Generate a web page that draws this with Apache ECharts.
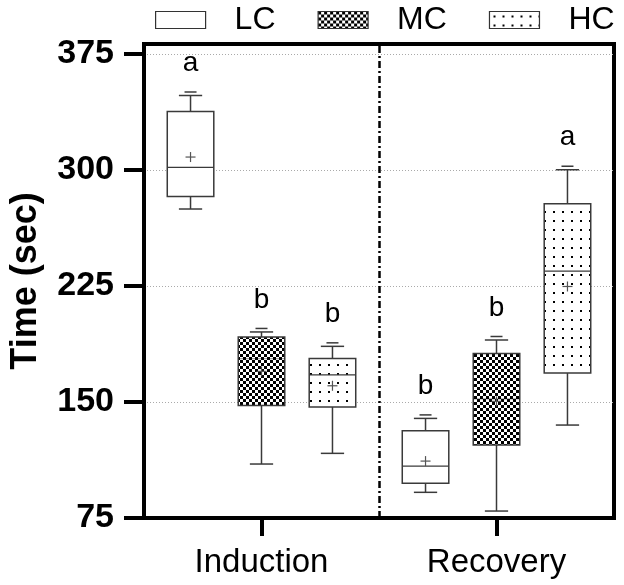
<!DOCTYPE html>
<html><head><meta charset="utf-8">
<script src="https://cdn.jsdelivr.net/npm/echarts@6/dist/echarts.min.js"></script>
<style>html,body{margin:0;padding:0;background:#fff}#c{width:624px;height:585px}</style>
</head><body><div id="c"></div>
<script>
const categories = ['Induction', 'Recovery'];
const groupNames = ['LC', 'MC', 'HC'];
const yTicks = [75, 150, 225, 300, 375];
// [min, Q1, median, Q3, max] per category
const lcStats = [[274.8, 282.9, 301.7, 337.9, 348.2], [91.6, 97.4, 108.6, 131.4, 139.4]];
const mcStats = [[109.9, 147.8, 178.0, 192.0, 195.3], [79.5, 122.2, 152.0, 181.4, 190.1]];
const hcStats = [[116.8, 146.8, 167.5, 178.2, 186.0], [135.1, 168.7, 234.7, 278.2, 300.2]];
const lcMeans = [308.4, 111.8];
const mcMeans = [169.8, 150.4];
const hcMeans = [160.5, 224.7];
const lcLetters = ['a', 'b'];
const mcLetters = ['b', 'b'];
const hcLetters = ['b', 'a'];

const FONT = 'Liberation Sans, Arial, sans-serif';

function makeChecker() {
  const c = document.createElement('canvas'); c.width = 6; c.height = 6;
  const g = c.getContext('2d');
  g.fillStyle = '#fff'; g.fillRect(0, 0, 6, 6);
  g.fillStyle = '#000'; g.fillRect(0, 0, 3, 3); g.fillRect(3, 3, 3, 3);
  return c;
}
function makeDots() {
  const c = document.createElement('canvas'); c.width = 9; c.height = 9;
  const g = c.getContext('2d');
  g.fillStyle = '#fff'; g.fillRect(0, 0, 9, 9);
  g.fillStyle = '#000'; g.fillRect(4, 4, 2, 2);
  return c;
}
const fills = ['#ffffff', { image: makeChecker(), repeat: 'repeat' }, { image: makeDots(), repeat: 'repeat' }];

const STROKE = '#3a3a3a';

function makeSeries(name, stats, means, letters, fill, slot, medColor) {
  return {
    name: name,
    type: 'custom',
    data: stats.map((s, i) => [i].concat(s, [means[i]])),
    encode: { x: 0, y: [1, 2, 3, 4, 5] },
    itemStyle: { color: fill },
    clip: false,
    renderItem: function (params, api) {
      const ci = api.value(0);
      const vMin = api.value(1), q1 = api.value(2), med = api.value(3), q3 = api.value(4), vMax = api.value(5), mean = api.value(6);
      const band = api.size([1, 0])[0];
      const cx = api.coord([ci, vMin])[0] + slot * 0.302 * band;
      const y = v => api.coord([ci, v])[1];
      const w = band * 0.198, cap = w * 0.5, dash = 12, plus = 5;
      const ls = { stroke: STROKE, lineWidth: 1.5 };
      const line = (x1, y1, x2, y2, st) => ({ type: 'line', shape: { x1, y1, x2, y2 }, style: st || ls });
      const yMin = y(vMin), yQ1 = y(q1), yMed = y(med), yQ3 = y(q3), yMax = y(vMax), yMean = y(mean);
      const children = [
        line(cx, yQ1, cx, yMin),
        line(cx, yMax, cx, yQ3),
        line(cx - cap / 2, yMin, cx + cap / 2, yMin),
        line(cx - cap / 2, yMax, cx + cap / 2, yMax),
        line(cx - dash / 2, yMax - 3.5, cx + dash / 2, yMax - 3.5),
        { type: 'rect', shape: { x: cx - w / 2, y: yQ3, width: w, height: yQ1 - yQ3 },
          style: { fill: fill, stroke: STROKE, lineWidth: 1.5 } },
        line(cx - w / 2, yMed, cx + w / 2, yMed, { stroke: medColor, lineWidth: 1.2, opacity: medColor === '#000' ? 0.35 : 1 }),
        line(cx - plus, yMean, cx + plus, yMean, { stroke: '#555', lineWidth: 1.2 }),
        line(cx, yMean - plus, cx, yMean + plus, { stroke: '#555', lineWidth: 1.2 }),
        { type: 'text', x: cx, y: yMax - 32,
          style: { text: letters[ci], fontSize: 28, fontFamily: FONT, fill: '#000', align: 'center', verticalAlign: 'middle' } }
      ];
      return { type: 'group', children: children };
    }
  };
}

const chart = echarts.init(document.getElementById('c'), null, { renderer: 'canvas' });
chart.setOption({
  animation: false,
  backgroundColor: '#fff',
  grid: { left: 143, right: 10, top: 44, bottom: 67, show: true, borderColor: '#000', borderWidth: 4, backgroundColor: 'transparent' },
  legend: {
    top: 4, left: 155, padding: 0, itemWidth: 50, itemHeight: 17, itemGap: 42, selectedMode: false,
    textStyle: { fontSize: 32, color: '#000', fontFamily: FONT, padding: [0, 0, 0, 24] },
    data: groupNames.map((n, i) => ({ name: n, icon: 'rect', itemStyle: { color: fills[i], borderColor: '#333', borderWidth: 1.2 } }))
  },
  xAxis: [
    {
      type: 'category', data: categories, boundaryGap: true,
      axisLine: { show: true, lineStyle: { color: '#000', width: 4 } },
      axisTick: { show: true, alignWithLabel: true, length: 18, lineStyle: { color: '#000', width: 4 } },
      axisLabel: { fontSize: 33, color: '#000', fontFamily: FONT, margin: 28 },
      splitLine: { show: false }
    },
    { type: 'value', min: 0, max: 2, show: false, gridIndex: 0 }
  ],
  yAxis: {
    type: 'value', min: 75, max: 381.5, interval: 75,
    name: 'Time (sec)', nameLocation: 'middle', nameGap: 100,
    nameTextStyle: { fontSize: 36, fontWeight: 'bold', color: '#000', fontFamily: FONT },
    axisLine: { show: true, lineStyle: { color: '#000', width: 4 } },
    axisTick: { show: true, length: 20, customValues: yTicks, lineStyle: { color: '#000', width: 4 } },
    axisLabel: { customValues: yTicks, fontSize: 34, fontWeight: 'bold', color: '#000', fontFamily: FONT, margin: 30 },
    splitLine: { show: true, lineStyle: { color: '#aaa', width: 1, type: [1, 2] } }
  },
  series: [
    makeSeries('LC', lcStats, lcMeans, lcLetters, fills[0], -1, STROKE),
    makeSeries('MC', mcStats, mcMeans, mcLetters, fills[1], 0, '#000'),
    makeSeries('HC', hcStats, hcMeans, hcLetters, fills[2], 1, STROKE),
    {
      type: 'line', xAxisIndex: 1, yAxisIndex: 0, data: [], silent: true,
      markLine: { silent: true, symbol: 'none', label: { show: false },
        lineStyle: { color: '#000', width: 2.5, type: [7, 3, 2, 3] }, data: [{ xAxis: 1 }] }
    }
  ]
});
</script>
</body></html>
